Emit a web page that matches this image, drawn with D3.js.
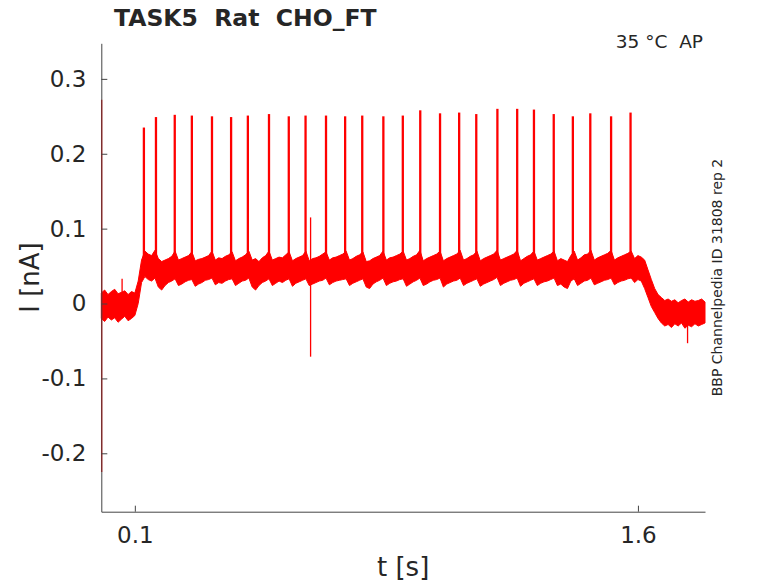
<!DOCTYPE html>
<html>
<head>
<meta charset="utf-8">
<script src="https://cdn.jsdelivr.net/npm/d3@7"></script>
<style>
  body { margin: 0; background: #fff; }
  text { font-family: "DejaVu Sans", sans-serif; fill: #262626; }
</style>
</head>
<body>
<svg></svg>
<script>
const size = {w: 778, h: 583};
const margin = {t: 43.3, r: 73, b: 71.3, l: 101.3};

// sampling grid of the noisy band (s), one value every 10 ms
const bandTimes = d3.range(0, 1.8005, 0.01);
// upper / lower edge of the noisy trace (nA)
const bandHi = [
  0.014, 0.018, 0.012, 0.016, 0.019, 0.013, 0.015, 0.017, 0.012, 0.016,
  0.014, 0.030, 0.058, 0.070, 0.066, 0.064, 0.071, 0.060, 0.056, 0.058,
  0.060, 0.063, 0.070, 0.058, 0.060, 0.062, 0.064, 0.069, 0.057, 0.059,
  0.060, 0.062, 0.064, 0.070, 0.058, 0.061, 0.060, 0.063, 0.065, 0.069,
  0.057, 0.060, 0.062, 0.065, 0.070, 0.058, 0.060, 0.056, 0.061, 0.064,
  0.070, 0.058, 0.060, 0.062, 0.061, 0.065, 0.069, 0.057, 0.060, 0.062,
  0.064, 0.070, 0.057, 0.060, 0.061, 0.063, 0.066, 0.069, 0.058, 0.061,
  0.062, 0.064, 0.066, 0.070, 0.058, 0.060, 0.063, 0.065, 0.069, 0.056,
  0.057, 0.060, 0.062, 0.064, 0.070, 0.058, 0.061, 0.062, 0.064, 0.066,
  0.070, 0.058, 0.060, 0.063, 0.065, 0.071, 0.057, 0.060, 0.062, 0.064,
  0.066, 0.070, 0.057, 0.060, 0.062, 0.064, 0.066, 0.071, 0.058, 0.060,
  0.063, 0.065, 0.070, 0.057, 0.060, 0.062, 0.064, 0.066, 0.071, 0.058,
  0.060, 0.062, 0.064, 0.066, 0.071, 0.057, 0.060, 0.063, 0.065, 0.070,
  0.058, 0.060, 0.062, 0.064, 0.066, 0.070, 0.057, 0.060, 0.058, 0.056,
  0.064, 0.070, 0.058, 0.061, 0.065, 0.066, 0.071, 0.058, 0.061, 0.063,
  0.065, 0.067, 0.071, 0.058, 0.061, 0.063, 0.065, 0.067, 0.070, 0.060,
  0.064, 0.062, 0.058, 0.045, 0.032, 0.020, 0.012, 0.008, 0.004, 0.006,
  0.003, 0.005, 0.001, 0.004, 0.006, 0.002, 0.005, 0.003, 0.004, 0.006,
  0.002
];
const bandLo = [
  -0.020, -0.024, -0.018, -0.022, -0.019, -0.025, -0.021, -0.017, -0.023, -0.020,
  -0.016, 0.000, 0.028, 0.036, 0.032, 0.030, 0.034, 0.022, 0.018, 0.024,
  0.028, 0.030, 0.033, 0.024, 0.026, 0.029, 0.031, 0.032, 0.023, 0.026,
  0.028, 0.031, 0.032, 0.034, 0.025, 0.028, 0.027, 0.030, 0.032, 0.033,
  0.024, 0.027, 0.030, 0.031, 0.034, 0.022, 0.018, 0.024, 0.028, 0.030,
  0.033, 0.024, 0.027, 0.030, 0.028, 0.031, 0.033, 0.023, 0.027, 0.029,
  0.031, 0.033, 0.024, 0.026, 0.028, 0.030, 0.031, 0.034, 0.025, 0.028,
  0.030, 0.031, 0.032, 0.033, 0.024, 0.027, 0.029, 0.031, 0.033, 0.022,
  0.020, 0.026, 0.029, 0.031, 0.034, 0.024, 0.027, 0.029, 0.030, 0.032,
  0.033, 0.023, 0.026, 0.029, 0.031, 0.034, 0.024, 0.026, 0.029, 0.031,
  0.032, 0.034, 0.022, 0.026, 0.028, 0.030, 0.031, 0.034, 0.024, 0.027,
  0.029, 0.031, 0.033, 0.023, 0.026, 0.028, 0.030, 0.032, 0.035, 0.024,
  0.027, 0.029, 0.031, 0.032, 0.034, 0.023, 0.027, 0.029, 0.031, 0.033,
  0.024, 0.027, 0.029, 0.030, 0.032, 0.034, 0.024, 0.026, 0.022, 0.020,
  0.030, 0.033, 0.024, 0.027, 0.030, 0.031, 0.034, 0.025, 0.027, 0.029,
  0.031, 0.032, 0.034, 0.025, 0.028, 0.030, 0.031, 0.033, 0.034, 0.028,
  0.032, 0.030, 0.020, 0.008, -0.004, -0.012, -0.020, -0.026, -0.030, -0.028,
  -0.032, -0.027, -0.030, -0.026, -0.033, -0.029, -0.031, -0.027, -0.030, -0.028,
  -0.026
];

// action potential currents
const spikeTimes = [
  0.127, 0.163, 0.219, 0.270, 0.330, 0.387, 0.437, 0.500, 0.559,
  0.609, 0.670, 0.727, 0.778, 0.841, 0.899, 0.951, 1.010, 1.067,
  1.118, 1.181, 1.240, 1.290, 1.349, 1.406, 1.458, 1.520, 1.578
];
const spikePeaks = [
  0.235, 0.249, 0.252, 0.251, 0.250, 0.249, 0.251, 0.253, 0.250,
  0.251, 0.251, 0.250, 0.251, 0.250, 0.251, 0.258, 0.254, 0.255,
  0.253, 0.260, 0.260, 0.259, 0.253, 0.250, 0.254, 0.250, 0.255
];
const spikeBase = 0.05;

// single-sample glitches: time, low, high
const glitchTimes = [0.001, 0.062, 0.624, 1.748];
const glitchLo = [-0.225, 0.0, -0.071, -0.053];
const glitchHi = [0.272, 0.033, 0.115, -0.01];

const xTicks = [0.1, 1.6];
const yTicks = [-0.2, -0.1, 0, 0.1, 0.2, 0.3];

const svg = d3.select('svg')
    .attr('width', size.w)
    .attr('height', size.h);

const x = d3.scaleLinear()
    .domain([0, 1.8])
    .range([margin.l, size.w - margin.r]);

const y = d3.scaleLinear()
    .domain([-0.278, 0.3475])
    .range([size.h - margin.b, margin.t]);

const red = '#ff0000';
const plotG = svg.append('g');

// noisy band
const area = d3.area()
    .x((d, i) => x(bandTimes[i]))
    .y0((d, i) => y(bandLo[i]))
    .y1((d, i) => y(bandHi[i]));

plotG.append('path')
    .attr('d', area(bandHi))
    .attr('fill', red)
    .attr('stroke', red)
    .attr('stroke-width', 1);

// spikes
plotG.selectAll('line.spike')
    .data(spikeTimes)
    .enter()
    .append('line')
    .classed('spike', true)
    .attr('x1', d => x(d))
    .attr('x2', d => x(d))
    .attr('y1', y(spikeBase))
    .attr('y2', (d, i) => y(spikePeaks[i]))
    .attr('stroke', red)
    .attr('stroke-width', 2.3);

plotG.selectAll('line.glitch')
    .data(glitchTimes)
    .enter()
    .append('line')
    .classed('glitch', true)
    .attr('x1', d => x(d))
    .attr('x2', d => x(d))
    .attr('y1', (d, i) => y(glitchLo[i]))
    .attr('y2', (d, i) => y(glitchHi[i]))
    .attr('stroke', red)
    .attr('stroke-width', 1.3);

// axes (MATLAB style: inward ticks, no box)
const fmt = d => d === 0 ? '0' : String(d);

const xAxis = svg.append('g')
    .attr('transform', `translate(0,${size.h - margin.b})`)
    .call(d3.axisBottom(x).tickValues(xTicks).tickFormat(fmt)
        .tickSizeInner(-6).tickSizeOuter(0).tickPadding(15));

const yAxis = svg.append('g')
    .attr('transform', `translate(${margin.l},0)`)
    .call(d3.axisLeft(y).tickValues(yTicks).tickFormat(fmt)
        .tickSizeInner(-6).tickSizeOuter(0).tickPadding(15));

[xAxis, yAxis].forEach(g => {
    g.select('.domain').attr('stroke', '#444').attr('stroke-width', 1);
    g.selectAll('.tick line').attr('stroke', '#444');
    g.selectAll('.tick text')
        .style('font-family', '"DejaVu Sans", sans-serif')
        .style('font-size', '23px')
        .attr('fill', '#262626');
});

// labels
svg.append('text')
    .attr('x', (margin.l + size.w - margin.r) / 2)
    .attr('y', 576)
    .attr('text-anchor', 'middle')
    .style('font-size', '26px')
    .text('t [s]');

svg.append('text')
    .attr('transform', `translate(39,${(margin.t + size.h - margin.b) / 2}) rotate(-90)`)
    .attr('text-anchor', 'middle')
    .style('font-size', '26px')
    .text('I [nA]');

svg.append('text')
    .attr('x', 114)
    .attr('y', 26)
    .style('font-size', '23.5px')
    .style('font-weight', 'bold')
    .style('white-space', 'pre')
    .attr('fill', '#000')
    .text('TASK5  Rat  CHO_FT');

svg.append('text')
    .attr('x', 703)
    .attr('y', 48)
    .attr('text-anchor', 'end')
    .style('font-size', '18.5px')
    .style('white-space', 'pre')
    .attr('fill', '#000')
    .text('35 °C  AP');

svg.append('text')
    .attr('transform', `translate(722,${(margin.t + size.h - margin.b) / 2}) rotate(-90)`)
    .attr('text-anchor', 'middle')
    .style('font-size', '14px')
    .attr('fill', '#000')
    .text('BBP Channelpedia ID 31808 rep 2');
</script>
</body>
</html>
